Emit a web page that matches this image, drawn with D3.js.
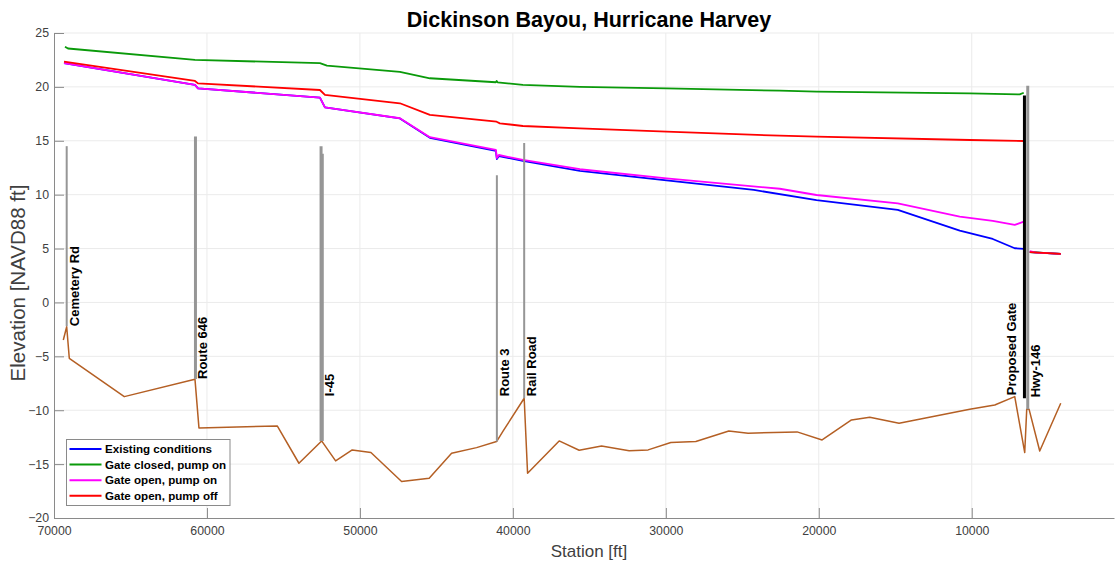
<!DOCTYPE html>
<html><head><meta charset="utf-8">
<script src="https://cdn.jsdelivr.net/npm/d3@7"></script>
<style>
body{margin:0;background:#fff;}
text{font-family:"Liberation Sans",Arial,Helvetica,sans-serif;}
</style>
</head><body>
<svg id="chart" width="1115" height="561"></svg>
<script>
// ---------- data ----------
const xTicks = [70000, 60000, 50000, 40000, 30000, 20000, 10000];
const yTicks = [-20, -15, -10, -5, 0, 5, 10, 15, 20, 25];

const seriesNames = ["Existing conditions", "Gate closed, pump on", "Gate open, pump on", "Gate open, pump off"];
const seriesColors = ["#0000ff", "#0a9a0a", "#ff00ff", "#ff0000"];

// [station ft, water surface elevation ft]; NaN marks a break at the gate
const existing = [[69346,22.2],[60784,20.18],[60588,19.87],[52614,19.0],[52287,18.1],[47385,17.07],[45425,15.28],
  [41112,14.07],[41046,13.3],[40915,13.58],[39346,13.13],[35621,12.2],[29954,11.33],[24247,10.44],[20150,9.5],
  [14836,8.58],[10784,6.66],[8627,5.89],[7189,5.03],[6601,4.97],[6400,NaN],[6209,4.66],[4182,4.5]];
const gateClosed = [[69281,23.73],[69085,23.56],[60784,22.5],[52614,22.2],[52157,21.98],[47385,21.4],[45425,20.8],
  [41112,20.43],[41060,20.55],[41000,20.42],[39346,20.18],[35621,20.0],[29954,19.87],[22549,19.65],[20150,19.56],
  [10130,19.4],[6863,19.3],[6601,19.46],[6400,NaN],[6209,4.66],[4182,4.5]];
const openPumpOn = [[69346,22.2],[60784,20.18],[60588,19.87],[52614,19.0],[52287,18.1],[47385,17.09],[45425,15.33],
  [41112,14.15],[41046,13.4],[40915,13.68],[39346,13.22],[35621,12.36],[29954,11.52],[22549,10.55],[20150,9.97],
  [14836,9.2],[10784,7.96],[8627,7.56],[7189,7.19],[6601,7.5],[6400,NaN],[6209,4.75],[5800,4.62],[4182,4.5]];
const openPumpOff = [[69346,22.34],[60784,20.55],[60588,20.33],[52614,19.71],[52287,19.25],[47385,18.48],[45425,17.4],
  [41066,16.77],[40850,16.62],[39346,16.37],[35621,16.16],[29954,15.84],[22549,15.47],[20150,15.38],[10130,15.07],
  [6601,14.98],[6400,NaN],[6209,4.66],[4182,4.5]];
const seriesData = [existing, gateClosed, openPumpOn, openPumpOff];

// channel bed profile [station ft, elevation ft]
const bed = [[69392,-3.48],[69170,-2.25],[69000,-5.18],[65405,-8.74],[60784,-7.12],[60523,-11.64],[55405,-11.46],
  [53987,-14.92],[52503,-12.85],[51588,-14.7],[50503,-13.68],[49281,-13.93],[47275,-16.62],[45471,-16.31],
  [44007,-13.99],[42373,-13.47],[41066,-12.91],[40633,-11.92],[39261,-8.89],[39039,-15.84],[36974,-12.85],
  [35667,-13.71],[34203,-13.31],[32399,-13.75],[31157,-13.68],[29673,-13.0],[28039,-12.91],[25882,-11.92],
  [24621,-12.13],[21418,-12.01],[19784,-12.76],[17862,-10.9],[16667,-10.65],[14751,-11.21],[10130,-9.9],
  [8496,-9.51],[7189,-8.74],[6536,-13.93],[6405,-9.9],[6255,-9.9],[5556,-13.78],[4182,-9.35]];

// structures: station, top elevation, bottom elevation
const structStations = [69170, 60752, 52540, 52460, 41046, 39261, 6555, 6339];
const structTops     = [14.5, 15.4, 14.5, 13.8, 11.8, 14.8, 19.2, 20.1];
const structBottoms  = [-2.2, -7.1, -12.85, -12.85, -12.9, -8.9, -8.9, -9.9];
const structColors   = ["#969696","#969696","#969696","#969696","#969696","#969696","#000000","#969696"];
const structWidths   = [2, 3, 3, 3, 2, 2, 3, 3];

const labelNames    = ["Cemetery Rd", "Route 646", "I-45", "Route 3", "Rail Road", "Proposed Gate", "Hwy-146"];
const labelStations = [69170, 60752, 52460, 41046, 39261, 6555, 6339];
const labelElev     = [-2.2, -7.1, -8.7, -8.7, -8.7, -8.6, -8.8];
const labelSide     = [1, 1, 1, 1, 1, -1, 1];

// ---------- layout ----------
const svg = d3.select("#chart");
const L = 54, R = 1114, T = 33, B = 518;
const x = d3.scaleLinear().domain([70000, 700]).range([L, R]);
const y = d3.scaleLinear().domain([-20, 25]).range([B, T]);

// grid
const grid = svg.append("g");
grid.selectAll("line.gx").data(xTicks.slice(1)).enter().append("line")
  .attr("x1", d => x(d)).attr("x2", d => x(d)).attr("y1", T).attr("y2", B)
  .attr("stroke", "#ebebeb").attr("stroke-width", 1);
grid.selectAll("line.gy").data(yTicks.slice(1)).enter().append("line")
  .attr("x1", L).attr("x2", R).attr("y1", d => y(d)).attr("y2", d => y(d))
  .attr("stroke", "#ebebeb").attr("stroke-width", 1);

// axes
const xAxis = d3.axisBottom(x).tickValues(xTicks).tickSizeInner(-10).tickSizeOuter(0).tickPadding(8).tickFormat(d3.format("d"));
const gx = svg.append("g").attr("transform", `translate(0,${B})`).call(xAxis);
const yAxis = d3.axisLeft(y).tickValues(yTicks).tickSizeInner(-10).tickSizeOuter(0).tickPadding(5).tickFormat(d3.format("d"));
const gy = svg.append("g").attr("transform", `translate(${L},0)`).call(yAxis);
[gx, gy].forEach(g => {
  g.select(".domain").attr("stroke", "#8a8a8a").attr("stroke-width", 1);
  g.selectAll(".tick line").attr("stroke", "#8a8a8a");
  g.selectAll(".tick text").attr("fill", "#404040").style("font-size", "12.3px")
    .style("font-family", '"Liberation Sans",Arial,sans-serif');
});
gx.selectAll(".tick text").attr("dy", "0.71em").attr("y", 8.5);
gy.selectAll(".tick text").attr("x", -5);

// water surface lines
const line = d3.line().defined(d => !isNaN(d[1])).x(d => x(d[0])).y(d => y(d[1]));
svg.append("g").selectAll("path").data(seriesData).enter().append("path")
  .attr("d", line).attr("fill", "none")
  .attr("stroke", (d, i) => seriesColors[i]).attr("stroke-width", 1.8)
  .attr("stroke-linejoin", "round");

// bed
svg.append("path").datum(bed).attr("d", line).attr("fill", "none")
  .attr("stroke", "#b45f24").attr("stroke-width", 1.5).attr("stroke-linejoin", "round");

// structures
svg.append("g").selectAll("line").data(structStations).enter().append("line")
  .attr("x1", d => x(d)).attr("x2", d => x(d))
  .attr("y1", (d, i) => y(structTops[i])).attr("y2", (d, i) => y(structBottoms[i]))
  .attr("stroke", (d, i) => structColors[i]).attr("stroke-width", (d, i) => structWidths[i]);

// structure labels
svg.append("g").selectAll("text").data(labelNames).enter().append("text")
  .attr("transform", (d, i) => `translate(${x(labelStations[i]) + (labelSide[i] > 0 ? 12 : -8.5)},${y(labelElev[i])}) rotate(-90)`)
  .attr("text-anchor", "start")
  .style("font-size", "13px").style("font-weight", "bold").attr("fill", "#000")
  .text(d => d);

// title & axis labels
svg.append("text").attr("x", 589).attr("y", 26.5).attr("text-anchor", "middle")
  .style("font-size", "21.5px").style("font-weight", "bold").attr("fill", "#000")
  .text("Dickinson Bayou, Hurricane Harvey");
svg.append("text").attr("x", 589).attr("y", 557).attr("text-anchor", "middle")
  .style("font-size", "17px").attr("fill", "#404040").text("Station [ft]");
svg.append("text").attr("transform", "translate(25,283) rotate(-90)").attr("text-anchor", "middle")
  .style("font-size", "20.5px").attr("fill", "#404040").text("Elevation [NAVD88 ft]");

// legend
const lg = svg.append("g").attr("transform", "translate(66.5,439.5)");
lg.append("rect").attr("width", 163.5).attr("height", 66).attr("fill", "#fff")
  .attr("stroke", "#8a8a8a").attr("stroke-width", 1);
const items = lg.selectAll("g").data(seriesNames).enter().append("g")
  .attr("transform", (d, i) => `translate(0,${9.5 + i * 15.6})`);
items.append("line").attr("x1", 3).attr("x2", 35).attr("y1", 0).attr("y2", 0)
  .attr("stroke", (d, i) => seriesColors[i]).attr("stroke-width", 2);
items.append("text").attr("x", 38.5).attr("y", 4.2)
  .style("font-size", "11.6px").style("font-weight", "bold").attr("fill", "#000").text(d => d);
</script>
</body></html>
